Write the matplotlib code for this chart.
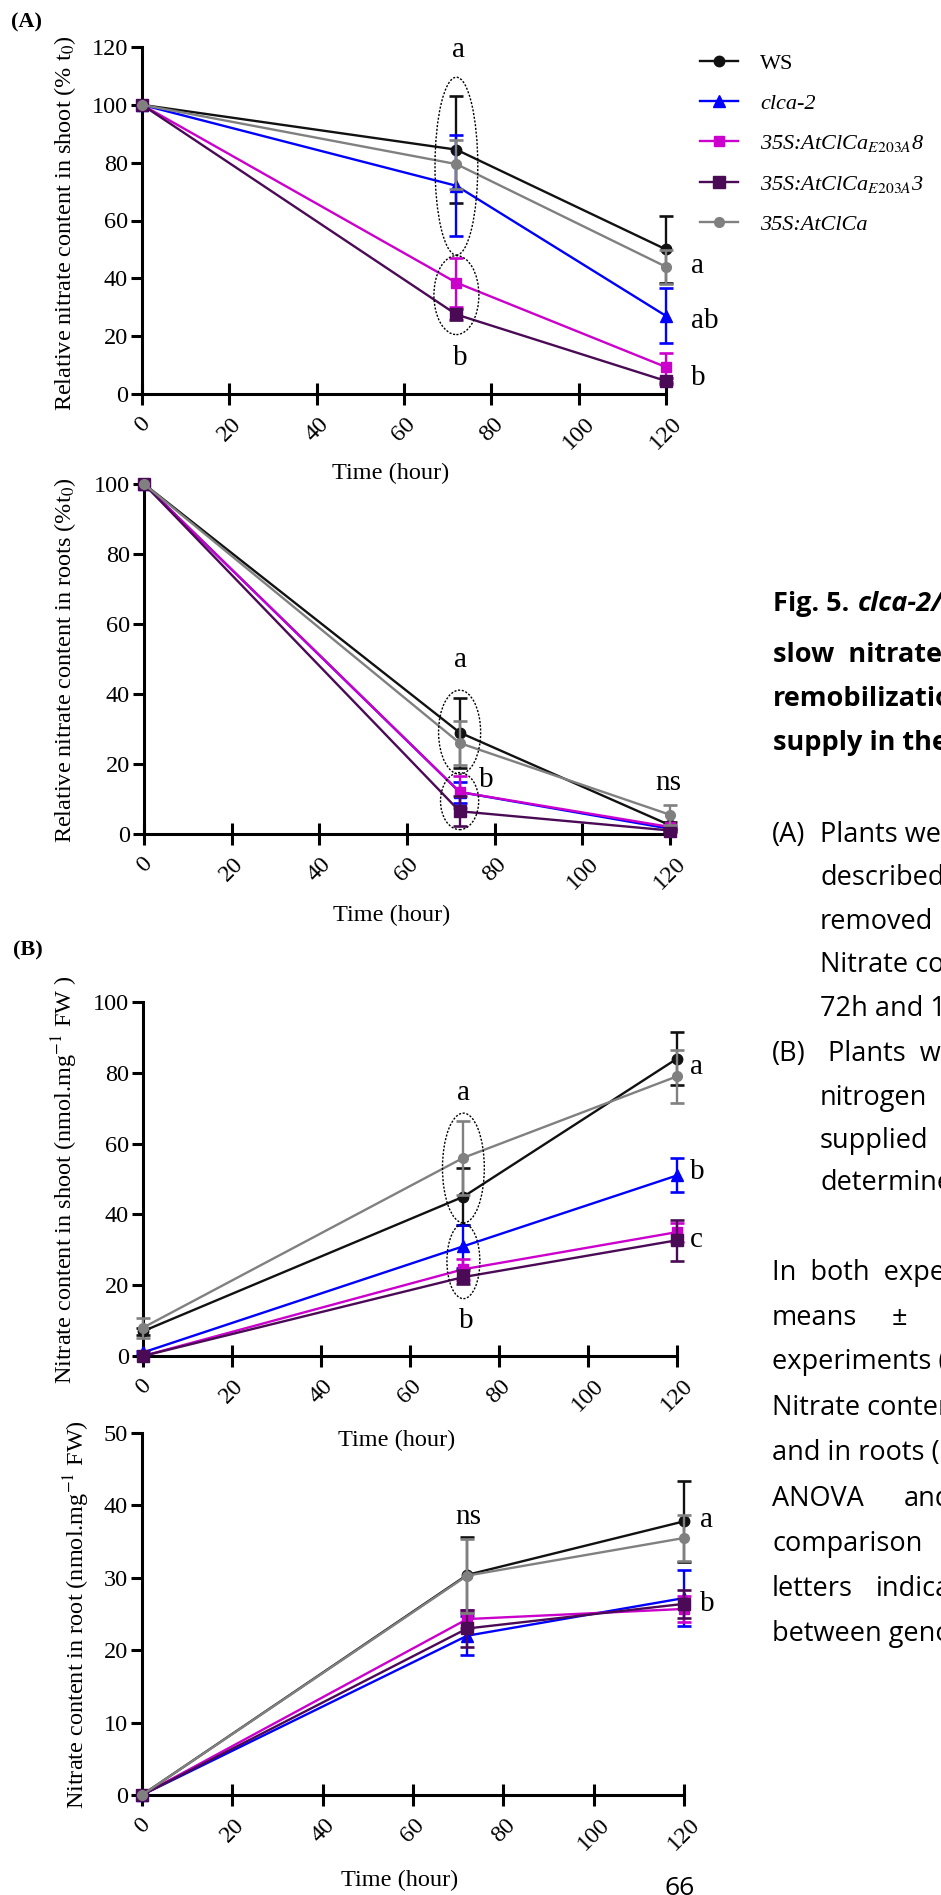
import matplotlib
matplotlib.use('Agg')
import matplotlib.pyplot as plt
from matplotlib.patches import Ellipse
from matplotlib.lines import Line2D

W, H = 941, 1895
plt.rcParams['font.family'] = ['Liberation Serif', 'DejaVu Serif']
plt.rcParams['mathtext.fontset'] = 'stix'

# %% Data
time_h = [0, 72, 120]
genotypes = ['WS', 'clca-2', '35S:AtClCa$_{\\mathit{E203A}}$8',
             '35S:AtClCa$_{\\mathit{E203A}}$3', '35S:AtClCa']
colors = ['#111111', '#0000ff', '#cc00cc', '#4a0a55', '#808080']
markers = ['o', '^', 's', 's', 'o']
msizes = [7.5, 8, 7.5, 8, 7]

# (A) relative nitrate, % of t0
shoot_A = [[100, 84.5, 50.0], [100, 72.0, 27.0], [100, 38.5, 9.3],
           [100, 27.5, 4.5], [100, 79.5, 44.0]]
shoot_A_se = [[0, 18.5, 11.5], [0, 17.5, 9.5], [0, 8.5, 5.0],
              [0, 2.0, 1.0], [0, 8.5, 5.8]]
roots_A = [[100, 29.0, 2.5], [100, 12.0, 1.5], [100, 12.0, 2.0],
           [100, 6.5, 1.0], [100, 26.0, 5.5]]
roots_A_se = [[0, 10.0, 1.0], [0, 3.0, 0.5], [0, 4.5, 0.5],
              [0, 4.3, 0.5], [0, 6.2, 2.8]]
# (B) nitrate content, nmol.mg-1 FW
shoot_B = [[7.0, 45.0, 84.0], [1.0, 31.0, 51.0], [0.0, 24.5, 35.0],
           [0.0, 22.3, 32.7], [8.0, 56.0, 79.0]]
shoot_B_se = [[1.0, 8.0, 7.5], [0.5, 6.0, 4.8], [0.0, 3.0, 2.7],
              [0.0, 2.0, 5.8], [2.8, 10.5, 7.5]]
root_B = [[0, 30.4, 37.8], [0, 22.0, 27.2], [0, 24.3, 25.7],
          [0, 23.0, 26.4], [0, 30.3, 35.5]]
root_B_se = [[0, 5.3, 5.6], [0, 2.7, 3.9], [0, 1.3, 1.8],
             [0, 2.5, 1.9], [0, 5.1, 3.2]]

# letters: (x, y, text, ha)
letters_shoot_A = [(72.4, 119, 'a', 'center'), (72.8, 12.4, 'b', 'center'),
                   (125.7, 44.3, 'a', 'left'), (125.7, 25.2, 'ab', 'left'),
                   (125.7, 5.5, 'b', 'left')]
letters_roots_A = [(72.3, 49.7, 'a', 'center'), (78.0, 15.4, 'b', 'center'),
                   (119.6, 14.6, 'ns', 'center')]
letters_shoot_B = [(72.1, 74.3, 'a', 'center'), (72.6, 9.9, 'b', 'center'),
                   (122.9, 81.6, 'a', 'left'), (122.9, 52.0, 'b', 'left'),
                   (122.9, 32.8, 'c', 'left')]
letters_root_B = [(72.2, 38.4, 'ns', 'center'),
                  (123.5, 38.0, 'a', 'left'), (123.5, 26.4, 'b', 'left')]

# dotted ellipses: (center y, width, height)
ell_shoot_A = [(78.8, 9.8, 61.5), (34.2, 10.3, 27.3)]
ell_roots_A = [(29.1, 9.6, 24.0), (9.4, 8.7, 16.3)]
ell_shoot_B = [(53.1, 9.4, 31.0), (26.8, 7.4, 21.2)]


def fx(x):
    return x / W


def fy(y):
    return 1 - y / H


fig = plt.figure(figsize=(W / 100, H / 100), dpi=100)


def make_ax(x0, x1, ytop, ybot, ymax, ystep, means, ses, letters, ells):
    ax = fig.add_axes([fx(x0), fy(ybot), (x1 - x0) / W, (ybot - ytop) / H])
    for i in range(len(genotypes)):
        ax.plot(time_h, means[i], color=colors[i], lw=1.7, marker=markers[i],
                ms=msizes[i], clip_on=False, zorder=3 + i)
        xs = [t for t, e in zip(time_h, ses[i]) if e > 0]
        ys = [m for m, e in zip(means[i], ses[i]) if e > 0]
        es = [e for e in ses[i] if e > 0]
        ax.errorbar(xs, ys, yerr=es, fmt='none', ecolor=colors[i], elinewidth=1.7,
                    capsize=5, capthick=1.9, clip_on=False, zorder=3 + i)
    for cy, w, h in ells:
        ax.add_patch(Ellipse((72, cy), w, h, fill=False, ec='black', lw=1.0,
                             ls=(0, (1.5, 1.2)), clip_on=False, zorder=10))
    for x, y, s, ha in letters:
        ax.text(x, y, s, ha=ha, va='center', fontsize=21, clip_on=False)
    ax.set_xlim(0, 120)
    ax.set_ylim(0, ymax)
    ax.set_xticks(range(0, 121, 20))
    ax.set_yticks(range(0, ymax + 1, ystep))
    ax.set_xticklabels([str(v) for v in range(0, 121, 20)], rotation=45,
                       ha='center', va='top')
    ax.spines['top'].set_visible(False)
    ax.spines['right'].set_visible(False)
    for sp in ['left', 'bottom']:
        ax.spines[sp].set_linewidth(2.2)
    ax.tick_params(axis='x', direction='inout', length=16, width=2.2,
                   labelsize=17.5, pad=6)
    ax.tick_params(axis='y', direction='out', length=8, width=2.2,
                   labelsize=17.5, pad=2)
    ax.patch.set_alpha(0)
    return ax


ax1 = make_ax(142, 666, 47, 394, 120, 20, shoot_A, shoot_A_se,
              letters_shoot_A, ell_shoot_A)
ax2 = make_ax(144, 670, 484, 834, 100, 20, roots_A, roots_A_se,
              letters_roots_A, ell_roots_A)
ax3 = make_ax(143, 677, 1002, 1356, 100, 20, shoot_B, shoot_B_se,
              letters_shoot_B, ell_shoot_B)
ax4 = make_ax(142, 684, 1433, 1795, 50, 10, root_B, root_B_se,
              letters_root_B, [])

# axis titles
lab = dict(fontsize=17.5, ha='center', va='center')
fig.text(fx(391), fy(473), 'Time (hour)', **lab)
fig.text(fx(392), fy(915), 'Time (hour)', **lab)
fig.text(fx(397), fy(1440), 'Time (hour)', **lab)
fig.text(fx(400), fy(1880), 'Time (hour)', **lab)
fig.text(fx(65), fy(223), 'Relative nitrate content in shoot (% t$_0$)',
         rotation=90, **lab)
fig.text(fx(65), fy(660), 'Relative nitrate content in roots (%t$_0$)',
         rotation=90, **lab)
fig.text(fx(65), fy(1180), 'Nitrate content in shoot (nmol.mg$^{-1}$ FW )',
         rotation=90, **lab)
fig.text(fx(77), fy(1615), 'Nitrate content in root (nmol.mg$^{-1}$ FW)',
         rotation=90, **lab)
fig.text(fx(26), fy(22), '(A)', fontsize=16, fontweight='bold', ha='center', va='center')
fig.text(fx(28), fy(950), '(B)', fontsize=16, fontweight='bold', ha='center', va='center')

# legend
handles = [Line2D([0], [0], color=colors[i], lw=1.7, marker=markers[i], ms=msizes[i])
           for i in range(len(genotypes))]
leg = fig.legend(handles, genotypes, loc='upper left',
                 bbox_to_anchor=(fx(700), fy(53)), frameon=False, fontsize=16,
                 handlelength=1.7, handletextpad=1.0, labelspacing=0.88,
                 borderpad=0, borderaxespad=0)
for i, t in enumerate(leg.get_texts()):
    if i > 0:
        t.set_fontstyle('italic')

# caption on the right
cap = dict(family=['Open Sans', 'DejaVu Sans'], fontsize=19.5, va='center', ha='left')
fig.text(fx(773), fy(604), 'Fig. 5.', fontweight='bold', **cap)
fig.text(fx(858), fy(604), 'clca-2/', fontweight='bold', fontstyle='italic', **cap)
fig.text(fx(773), fy(655), 'slow  nitrate', fontweight='bold', **cap)
fig.text(fx(773), fy(699), 'remobilization', fontweight='bold', **cap)
fig.text(fx(773), fy(743), 'supply in the', fontweight='bold', **cap)

body = [(772, 835, '(A)'), (820, 835, 'Plants were'), (820, 878, 'described'),
        (820, 922, 'removed'), (820, 965, 'Nitrate content'), (820, 1009, '72h and 120h'),
        (772, 1054, '(B)'), (828, 1054, 'Plants  were'), (820, 1098, 'nitrogen'),
        (820, 1141, 'supplied'), (820, 1183, 'determined'),
        (772, 1273, 'In  both  experiments'), (772, 1318, 'means'), (892, 1318, '±'),
        (772, 1362, 'experiments ('), (772, 1408, 'Nitrate content'),
        (772, 1453, 'and in roots ('), (772, 1499, 'ANOVA'), (904, 1499, 'and'),
        (772, 1544, 'comparison'), (772, 1589, 'letters'), (876, 1589, 'indicate'),
        (772, 1634, 'between genotypes')]
for x, y, s in body:
    fig.text(fx(x), fy(y), s, **cap)
fig.text(fx(665), fy(1876), '66', family=['Open Sans', 'DejaVu Sans'],
         fontsize=19, ha='left', va='top')

fig.savefig('out.png', dpi=100)
